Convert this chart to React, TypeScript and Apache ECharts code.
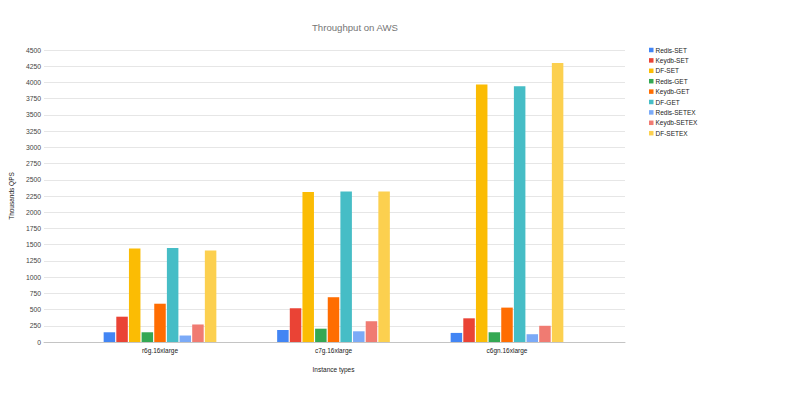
import React, { useEffect, useRef } from "react";
import * as echarts from "echarts";

const categories = ["r6g.16xlarge", "c7g.16xlarge", "c6gn.16xlarge"];
const seriesNames = [
  "Redis-SET",
  "Keydb-SET",
  "DF-SET",
  "Redis-GET",
  "Keydb-GET",
  "DF-GET",
  "Redis-SETEX",
  "Keydb-SETEX",
  "DF-SETEX",
];
const redisSet = [150, 185, 140];
const keydbSet = [390, 520, 365];
const dfSet = [1440, 2310, 3970];
const redisGet = [150, 205, 150];
const keydbGet = [590, 690, 530];
const dfGet = [1450, 2320, 3940];
const redisSetex = [100, 165, 120];
const keydbSetex = [270, 320, 250];
const dfSetex = [1410, 2320, 4300];
const seriesValues = [
  redisSet,
  keydbSet,
  dfSet,
  redisGet,
  keydbGet,
  dfGet,
  redisSetex,
  keydbSetex,
  dfSetex,
];
const colors = [
  "#4285F4",
  "#EA4335",
  "#FBBC04",
  "#34A853",
  "#FF6D01",
  "#46BDC6",
  "#7BAAF7",
  "#F07B72",
  "#FCD04F",
];

const FONT = "'Liberation Sans', Arial, sans-serif";

export default function App() {
  const ref = useRef<HTMLDivElement>(null);
  useEffect(() => {
    if (!ref.current) return;
    const chart = echarts.init(ref.current, null, { renderer: "svg" });
    chart.setOption({
      animation: false,
      backgroundColor: "#ffffff",
      color: colors,
      title: {
        text: "Throughput on AWS",
        left: 350,
        top: 17,
        textAlign: "center",
        textStyle: { fontFamily: FONT, fontSize: 9.6, fontWeight: "normal", color: "#757575" },
      },
      legend: {
        orient: "vertical",
        left: 644,
        top: 41,
        itemWidth: 4.5,
        itemHeight: 4.5,
        itemGap: 2.4,
        icon: "rect",
        textStyle: { fontFamily: FONT, fontSize: 6.5, color: "#222", padding: [0, 0, 0, -3], lineHeight: 8 },
        data: seriesNames,
      },
      grid: [
        { left: 43, width: 582, top: 50, height: 292, containLabel: false },
        { left: 73.25, width: 520.5, top: 50, height: 292, containLabel: false },
      ],
      xAxis: [
        {
          gridIndex: 0,
          type: "category",
          data: [""],
          axisLine: { lineStyle: { color: "#c4c4c4", width: 1 } },
          axisTick: { show: false },
          axisLabel: { show: false },
        },
        {
          gridIndex: 1,
          type: "category",
          data: categories,
          axisLine: { show: false },
          axisTick: { show: false },
          axisLabel: { fontFamily: FONT, fontSize: 6.5, color: "#222", margin: 5 },
          name: "Instance types",
          nameLocation: "middle",
          nameGap: 24,
          nameTextStyle: { fontFamily: FONT, fontSize: 6.5, color: "#222" },
        },
      ],
      yAxis: [
        {
          gridIndex: 0,
          type: "value",
          min: 0,
          max: 4500,
          interval: 250,
          axisLine: { show: false },
          axisTick: { show: false },
          axisLabel: {
            fontFamily: FONT,
            fontSize: 6.8,
            color: "#444",
            margin: 3,
            formatter: (v: number) => String(v),
          },
          splitLine: { lineStyle: { color: "#e6e6e6", width: 1 } },
          name: "Thousands QPS",
          nameLocation: "middle",
          nameGap: 28,
          nameTextStyle: { fontFamily: FONT, fontSize: 6.5, color: "#222" },
        },
        {
          gridIndex: 1,
          type: "value",
          min: 0,
          max: 4500,
          interval: 250,
          show: false,
          splitLine: { show: false },
        },
      ],
      series: seriesNames.map((name, i) => ({
        name,
        type: "bar",
        xAxisIndex: 1,
        yAxisIndex: 1,
        data: seriesValues[i],
        barWidth: 11.5,
        barGap: "10%",
        itemStyle: { color: colors[i] },
      })),
    });
    return () => chart.dispose();
  }, []);
  return <div ref={ref} style={{ width: 800, height: 399, position: "absolute", left: 0, top: 0 }} />;
}
